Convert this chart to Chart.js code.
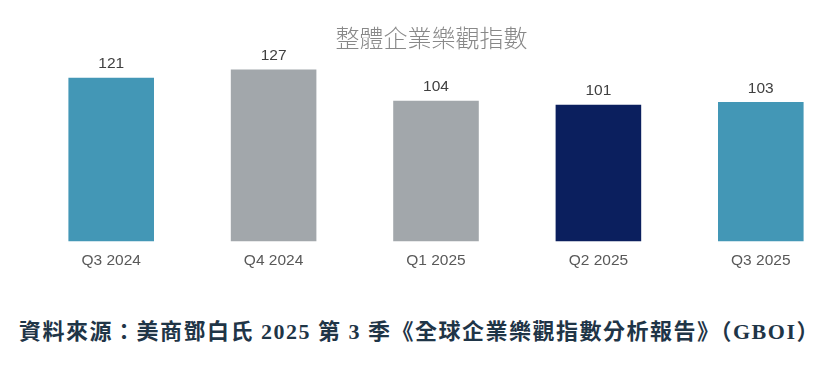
<!DOCTYPE html>
<html lang="zh-Hant">
<head>
<meta charset="UTF-8">
<title>整體企業樂觀指數</title>
<script src="https://cdn.jsdelivr.net/npm/chart.js@4.4.1/dist/chart.umd.min.js"></script>
<style>
  body { margin: 0; width: 823px; height: 371px; overflow: hidden; background: #fff; position: relative; }
  #myChart { position: absolute; left: 0; top: 0; }
  #title { position: absolute; left: 0; width: 863px; top: 22px; text-align: center;
    font: 300 24px "Noto Sans CJK TC", sans-serif; color: #888888; line-height: 30px; }
  #source { position: absolute; left: 19px; top: 316px; white-space: nowrap; letter-spacing: 1.5px;
    font: 700 22px "Liberation Serif", "Noto Sans CJK TC", serif; color: #1f3547; line-height: 32px; }
</style>
</head>
<body>
<canvas id="myChart" width="860" height="280"></canvas>
<div id="title">整體企業樂觀指數</div>
<div id="source">資料來源：美商鄧白氏 2025 第 3 季《全球企業樂觀指數分析報告》（GBOI）</div>
<script>
var quarters = ["Q3 2024", "Q4 2024", "Q1 2025", "Q2 2025", "Q3 2025"]
var index = [121, 127, 104, 101, 103]
var barColors = ["#4397b6", "#a2a7ab", "#a2a7ab", "#0b1f5e", "#4397b6"]

// value labels above bars
var valueLabels = {
  id: "valueLabels",
  afterDatasetsDraw(chart) {
    var ctx = chart.ctx
    var meta = chart.getDatasetMeta(0)
    ctx.save()
    ctx.font = "15.5px 'Liberation Sans', Arial, sans-serif"
    ctx.fillStyle = "#404040"
    ctx.textAlign = "center"
    ctx.textBaseline = "alphabetic"
    meta.data.forEach((bar, i) => {
      ctx.fillText(index[i], bar.x, bar.y - 9.5)
    })
    ctx.restore()
  }
}

var ctx = document.getElementById("myChart")
var myChart = new Chart(ctx.getContext("2d"), {
  type: "bar",
  data: {
    labels: quarters,
    datasets: [{
      data: index,
      backgroundColor: barColors,
      borderWidth: 0,
      categoryPercentage: 1,
      barPercentage: 0.527
    }]
  },
  options: {
    responsive: false,
    animation: false,
    layout: { padding: { left: 30, right: 18, top: 52, bottom: 0 } },
    plugins: { legend: { display: false }, tooltip: { enabled: false } },
    scales: {
      x: {
        grid: { display: false, drawTicks: false },
        border: { display: false },
        ticks: {
          padding: 10,
          color: "#595959",
          font: { family: "'Liberation Sans', Arial, sans-serif", size: 15.5 }
        }
      },
      y: {
        display: false,
        min: 0,
        max: 140
      }
    }
  },
  plugins: [valueLabels]
})
</script>
</body>
</html>
